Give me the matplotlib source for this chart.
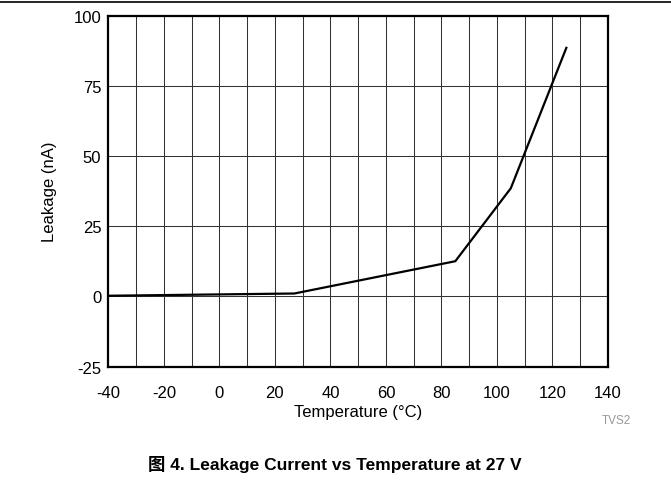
import matplotlib
matplotlib.use("Agg")
import matplotlib.pyplot as plt
from matplotlib.lines import Line2D

# data
temperature = [-40, 27, 85, 105, 125]
leakage = [0.2, 1.0, 12.5, 38.5, 88.5]

x_ticks = list(range(-40, 141, 20))
y_ticks = [-25, 0, 25, 50, 75, 100]

plt.rcParams['font.family'] = ['Liberation Sans', 'Noto Sans CJK SC', 'DejaVu Sans']
plt.rcParams['axes.unicode_minus'] = False

fig = plt.figure(figsize=(6.71, 5.02), dpi=100)
ax = fig.add_axes([0.1614, 0.2679, 0.7447, 0.6992])

# grid every 10 degC / 25 nA
for t in range(-30, 140, 10):
    ax.axvline(t, color="#333333", lw=0.75, zorder=1)
for v in [0, 25, 50, 75]:
    ax.axhline(v, color="#333333", lw=0.75, zorder=1)

ax.plot(temperature, leakage, color="black", lw=1.6, zorder=3)

ax.set_xlim(-40, 140)
ax.set_ylim(-25, 100)
ax.set_xticks(x_ticks)
ax.set_yticks(y_ticks)
ax.tick_params(length=0, labelsize=12)
ax.tick_params(axis="x", pad=13)
ax.tick_params(axis="y", pad=5)
for s in ax.spines.values():
    s.set_linewidth(1.6)

ax.set_xlabel("Temperature (°C)", fontsize=12, labelpad=3.5)
ax.set_ylabel("Leakage (nA)", fontsize=12, labelpad=12)

fig.text(616 / 671, 1 - 421.5 / 502, "TVS2", fontsize=8.5, color="#999999",
         ha="center", va="center")
fig.text(335 / 671, 1 - 465 / 502, "图 4. Leakage Current vs Temperature at 27 V",
         fontsize=12.5, fontweight="bold", ha="center", va="center")

fig.add_artist(Line2D([0, 1], [1 - 3 / 502, 1 - 3 / 502], color="black", lw=1.2,
                      transform=fig.transFigure))

fig.savefig("out.png", dpi=100)
